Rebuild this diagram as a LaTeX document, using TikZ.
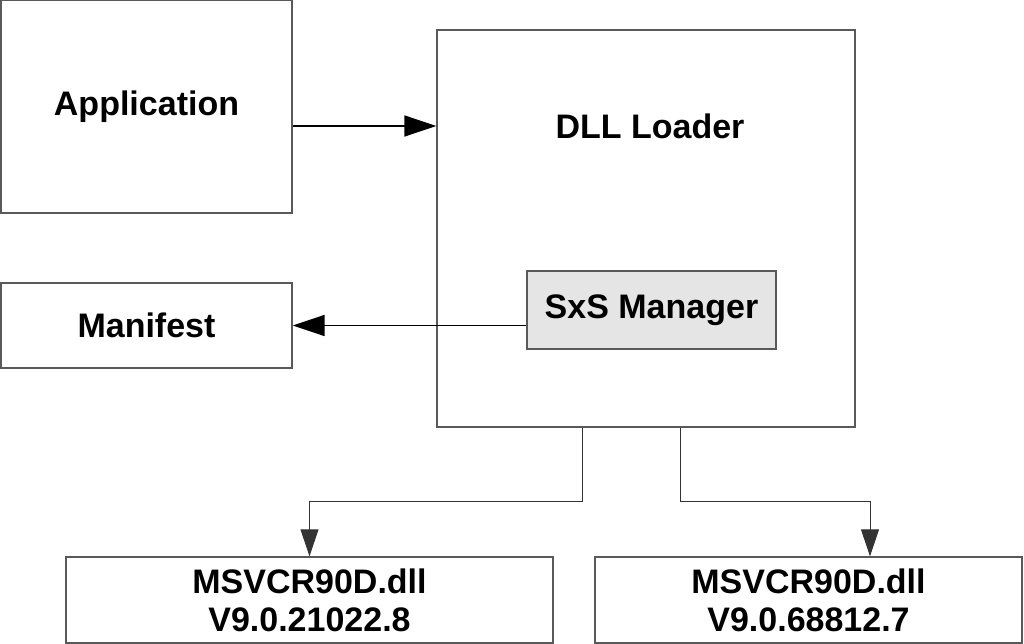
\documentclass[tikz,border=0pt]{standalone}
\usepackage{fontspec}
\setmainfont{Liberation Sans}
\usetikzlibrary{arrows.meta}

\begin{document}
\begin{tikzpicture}[x=1pt, y=-1pt,
    box/.style={draw=black!65, line width=1.4pt, rectangle, inner sep=0pt,
      font=\fontsize{34}{38}\selectfont\bfseries, align=center},
    bigarrow/.style={-{Triangle[length=32pt,width=21pt]}, line width=1.8pt},
    smallarrow/.style={-{Triangle[length=27pt,width=18pt]}, line width=0.9pt, draw=black!80}]
  \useasboundingbox (0,0) rectangle (1024,644);

  \node [box, minimum width=291pt, minimum height=213pt] (app) at (146.5,106.5) {Application};
  \node [box, minimum width=418pt, minimum height=397pt] (loader) at (646,228.5) {};
  \node [font=\fontsize{34}{38}\selectfont\bfseries] (loadertext) at (650,126) {DLL Loader};
  \node [box, fill=black!10, minimum width=249pt, minimum height=78pt] (sxs) at (651.5,310) {SxS Manager};
  \node [box, minimum width=291pt, minimum height=85pt] (manifest) at (146.5,325.5) {Manifest};
  \node [box, minimum width=487pt, minimum height=86pt] (dllold) at (309.5,600)
    {MSVCR90D.dll\\V9.0.21022.8};
  \node [box, minimum width=427pt, minimum height=86pt] (dllnew) at (808.5,600)
    {MSVCR90D.dll\\V9.0.68812.7};

  \draw [bigarrow] (app.east |- loadertext) -- (loader.west |- loadertext);
  \draw [bigarrow] (sxs.west |- manifest) -- (manifest.east);
  \draw [smallarrow] ([xshift=-64pt]loader.south) -- ++(0,74) -| (dllold.north);
  \draw [smallarrow] ([xshift=34pt]loader.south) -- ++(0,74) -| ([xshift=61.5pt]dllnew.north);
\end{tikzpicture}
\end{document}
